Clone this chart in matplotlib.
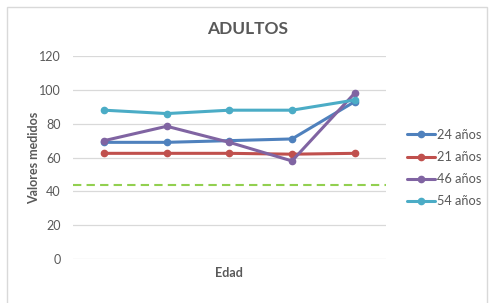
import matplotlib.pyplot as plt
from matplotlib.patches import Rectangle

plt.rcParams['font.family'] = ['Lato', 'DejaVu Sans']

# Datos
puntos = [1, 2, 3, 4, 5]
series = ['24 años', '21 años', '46 años', '54 años']
v24 = [69, 69, 70, 71, 93]
v21 = [62.5, 62.5, 62.5, 62, 62.5]
v46 = [70, 78.5, 69, 58, 98]
v54 = [88, 86, 88, 88, 94]
referencia = 43.5

colores = ['#4f81bd', '#c0504d', '#8064a2', '#4bacc6']
gris = '#595959'

fig = plt.figure(figsize=(4.96, 3.03), dpi=100)
ax = fig.add_axes([0.147, 0.145, 0.631, 0.67])

x = list(range(len(puntos)))
for valores, nombre, c in zip([v24, v21, v46, v54], series, colores):
    ax.plot(x, valores, marker='o', linestyle='-', color=c, linewidth=2.2,
            markersize=4.5, label=nombre, solid_capstyle='round')

ax.axhline(referencia, color='#92d050', linestyle=(0, (4, 2.5)), linewidth=1.5, zorder=1)

ax.set_xlim(-0.5, 4.5)
ax.set_ylim(0, 120)
ax.set_yticks(range(0, 121, 20))
ax.set_xticks([])
ax.grid(axis='y', color='#d9d9d9', linewidth=0.9)
ax.set_axisbelow(True)
for s in ax.spines.values():
    s.set_visible(False)
ax.tick_params(axis='y', length=0, pad=9, labelsize=9, labelcolor=gris)

fig.text(0.5, 0.905, 'ADULTOS', ha='center', va='center', fontsize=12.5,
         fontweight='bold', color=gris)
ax.set_ylabel('Valores medidos', fontsize=9, fontweight='bold', color=gris)
ax.yaxis.set_label_coords(-0.105, 0.5)
ax.set_xlabel('Edad', fontsize=9, fontweight='bold', color=gris, labelpad=6)

fig.legend(loc='center left', bbox_to_anchor=(0.797, 0.445), frameon=False,
           fontsize=9.2, labelcolor=gris, handlelength=2.2, handletextpad=0.2,
           labelspacing=0.8)

# borde del gráfico
fig.patches.append(Rectangle((0.014, -0.05), 0.968, 1.027, transform=fig.transFigure,
                             fill=False, edgecolor='#d9d9d9', linewidth=1))

fig.savefig('out.png', dpi=100)
